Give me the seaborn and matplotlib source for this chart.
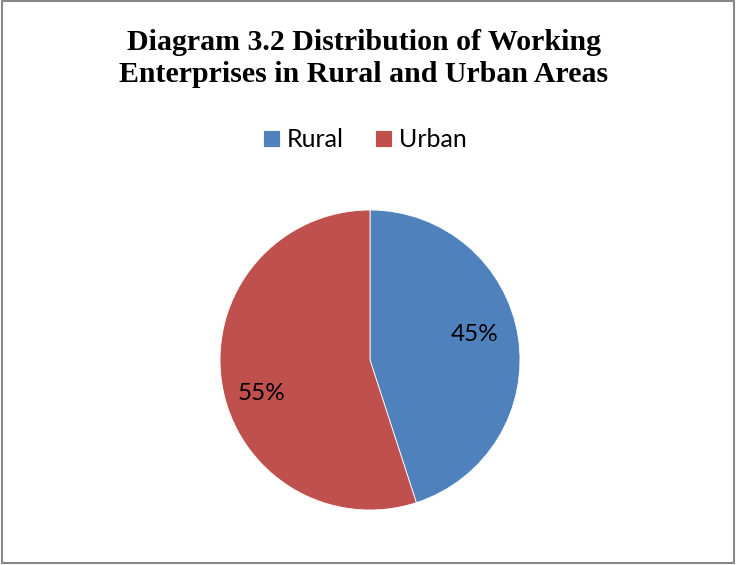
import matplotlib
matplotlib.use("Agg")
import matplotlib.pyplot as plt
from matplotlib.patches import Rectangle
import seaborn as sns

# Share of working enterprises by area
areas = ["Rural", "Urban"]
shares = [45, 55]
colors = ["#4F81BD", "#C0504D"]
title = "Diagram 3.2 Distribution of Working\nEnterprises in Rural and Urban Areas"

sns.set_theme(style="white")
plt.rcParams["font.family"] = ["Lato", "DejaVu Sans"]
plt.rcParams["text.color"] = "black"

W, H = 736, 565
fig = plt.figure(figsize=(W / 100, H / 100), dpi=100)
fig.patch.set_facecolor("white")

# pie axes: centre (370, 360) px, radius 150 px
cx, cy, r = 370, 360, 150
ax = fig.add_axes([(cx - r) / W, (H - cy - r) / H, 2 * r / W, 2 * r / H])
wedges, texts, autotexts = ax.pie(
    shares,
    colors=colors,
    startangle=90,
    counterclock=False,
    autopct="%1.0f%%",
    pctdistance=0.72,
    wedgeprops=dict(edgecolor="white", linewidth=0.6),
    textprops=dict(fontsize=17.5, color="black"),
    radius=1.0,
)
# nudge the percentage labels vertically, away from the horizontal axis
for t, dy in zip(autotexts, [0.06, -0.11]):
    x, y = t.get_position()
    t.set_position((x - 0.015, y + dy))
ax.set_xlim(-1, 1)
ax.set_ylim(-1, 1)
ax.set_aspect("equal")
ax.axis("off")

fig.text(364 / W, 1 - 29 / H, title, ha="center", va="top",
         family=["Liberation Serif", "DejaVu Serif"], fontweight="bold",
         fontsize=21.5, linespacing=1.22, color="black")

fig.legend(wedges, areas, loc="center", bbox_to_anchor=(365 / W, 1 - 140 / H),
           ncol=2, frameon=False, fontsize=18, handlelength=0.65,
           handleheight=0.65, handletextpad=0.3, columnspacing=1.25)

# outer chart border
fig.patches.append(Rectangle((0.003, 0.004), 0.994, 0.994, transform=fig.transFigure,
                             fill=False, edgecolor="#888888", linewidth=1.5))

fig.savefig("out.png", dpi=100)
